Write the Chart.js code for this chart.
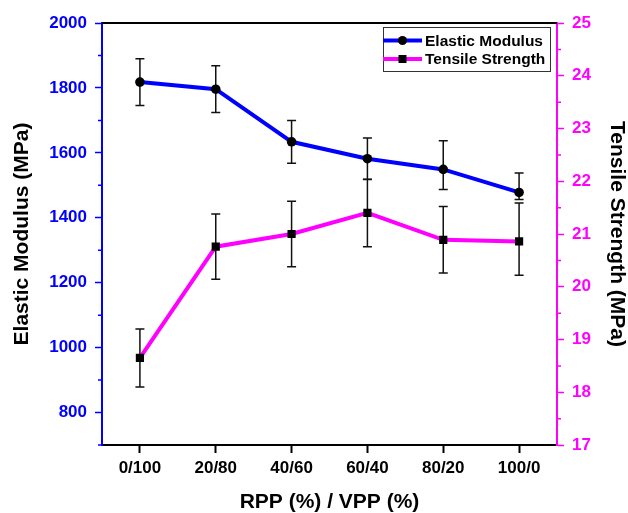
<!DOCTYPE html>
<html>
<head>
<meta charset="utf-8">
<script src="https://cdn.jsdelivr.net/npm/chart.js@4.4.0/dist/chart.umd.min.js"></script>
<style>
  html, body { margin: 0; padding: 0; background: #fff; }
  #wrap { width: 628px; height: 513px; }
</style>
</head>
<body>
<div id="wrap"><canvas id="propsChart" width="628" height="513"></canvas></div>
<script>
const blends = ['0/100', '20/80', '40/60', '60/40', '80/20', '100/0'];

const elasticModulus = [1818, 1796, 1634, 1582, 1549, 1478];
const elasticErrUp   = [72, 72, 66, 64, 88, 60];
const elasticErrDown = [72, 72, 66, 64, 62, 22];

const tensileStrength = [18.65, 20.76, 21.0, 21.4, 20.89, 20.86];
const tensileErrUp    = [0.55, 0.62, 0.62, 0.64, 0.63, 0.73];
const tensileErrDown  = [0.55, 0.62, 0.62, 0.64, 0.63, 0.64];

const modulusTicks = [800, 1000, 1200, 1400, 1600, 1800, 2000];
const strengthTicks = [17, 18, 19, 20, 21, 22, 23, 24, 25];

const BLUE = '#0000ff';
const MAGENTA = '#ff00ff';
const FONT = '"Liberation Sans", Arial, sans-serif';

// vertical error bars with caps, drawn under the lines and markers
const errorBars = {
  id: 'errorBars',
  beforeDatasetsDraw(chart) {
    const ctx = chart.ctx;
    ctx.save();
    ctx.strokeStyle = '#111';
    ctx.lineWidth = 1.5;
    chart.data.datasets.forEach((ds, i) => {
      const meta = chart.getDatasetMeta(i);
      const yScale = chart.scales[ds.yAxisID];
      meta.data.forEach((pt, j) => {
        const v = ds.data[j];
        const yTop = yScale.getPixelForValue(v + ds.errUp[j]);
        const yBot = yScale.getPixelForValue(v - ds.errDown[j]);
        ctx.beginPath();
        ctx.moveTo(pt.x, yTop);
        ctx.lineTo(pt.x, yBot);
        ctx.moveTo(pt.x - 4.5, yTop);
        ctx.lineTo(pt.x + 4.5, yTop);
        ctx.moveTo(pt.x - 4.5, yBot);
        ctx.lineTo(pt.x + 4.5, yBot);
        ctx.stroke();
      });
    });
    ctx.restore();
  }
};

// top frame line and the short minor ticks on both y axes
const frame = {
  id: 'frame',
  afterDraw(chart) {
    const ctx = chart.ctx;
    const a = chart.chartArea;
    ctx.save();
    ctx.strokeStyle = '#000';
    ctx.lineWidth = 2;
    ctx.beginPath();
    ctx.moveTo(a.left, a.top);
    ctx.lineTo(a.right, a.top);
    ctx.stroke();

    const minor = (scale, ticks, x0, x1, color) => {
      const step = ticks[1] - ticks[0];
      ctx.strokeStyle = color;
      ctx.lineWidth = 1.5;
      ctx.beginPath();
      for (let v = ticks[0] - step / 2; v < scale.max; v += step) {
        if (v < scale.min) continue;
        const y = scale.getPixelForValue(v);
        ctx.moveTo(x0, y);
        ctx.lineTo(x1, y);
      }
      ctx.stroke();
    };
    minor(chart.scales.y, modulusTicks, a.left - 4, a.left, BLUE);
    minor(chart.scales.y1, strengthTicks, a.right, a.right + 4, MAGENTA);
    ctx.restore();
  }
};

// boxed legend in the upper right corner of the plot
const boxLegend = {
  id: 'boxLegend',
  afterDraw(chart) {
    const ctx = chart.ctx;
    const x = 383, y = 27, w = 167, h = 44;
    ctx.save();
    ctx.strokeStyle = '#333';
    ctx.lineWidth = 1;
    ctx.strokeRect(x + 0.5, y + 0.5, w, h);
    ctx.font = 'bold 15.5px ' + FONT;
    ctx.textBaseline = 'middle';
    chart.data.datasets.forEach((ds, i) => {
      const cy = y + 13.5 + i * 18.5;
      ctx.strokeStyle = ds.borderColor;
      ctx.lineWidth = 4;
      ctx.beginPath();
      ctx.moveTo(x, cy);
      ctx.lineTo(x + 39, cy);
      ctx.stroke();
      ctx.fillStyle = '#000';
      if (ds.pointStyle === 'rect') {
        ctx.fillRect(x + 15.5, cy - 4, 8, 8);
      } else {
        ctx.beginPath();
        ctx.arc(x + 19.5, cy, 4.5, 0, Math.PI * 2);
        ctx.fill();
      }
      ctx.fillText(ds.label, x + 42, cy + 1);
    });
    ctx.restore();
  }
};

new Chart(document.getElementById('propsChart'), {
  type: 'line',
  data: {
    labels: blends,
    datasets: [
      {
        label: 'Elastic Modulus',
        data: elasticModulus,
        errUp: elasticErrUp,
        errDown: elasticErrDown,
        yAxisID: 'y',
        borderColor: BLUE,
        backgroundColor: '#000',
        borderWidth: 4,
        pointStyle: 'circle',
        pointRadius: 4.8,
        pointBorderWidth: 0,
        pointBackgroundColor: '#000',
        tension: 0
      },
      {
        label: 'Tensile Strength',
        data: tensileStrength,
        errUp: tensileErrUp,
        errDown: tensileErrDown,
        yAxisID: 'y1',
        borderColor: MAGENTA,
        backgroundColor: '#000',
        borderWidth: 4,
        pointStyle: 'rect',
        pointRadius: 5.8,
        pointBorderWidth: 0,
        pointBackgroundColor: '#000',
        tension: 0
      }
    ]
  },
  options: {
    responsive: false,
    animation: false,
    layout: { padding: { top: 23, left: 0, right: 0, bottom: 0 } },
    plugins: {
      legend: { display: false },
      tooltip: { enabled: false }
    },
    scales: {
      x: {
        offset: true,
        afterFit: s => { s.height = 68; },
        grid: { display: true, drawOnChartArea: false, drawTicks: true, tickLength: 8, tickColor: '#000', tickWidth: 2, offset: false },
        border: { color: '#000', width: 2 },
        ticks: { color: '#000', padding: 5, font: { family: FONT, size: 17, weight: 'bold' } },
        title: {
          display: true,
          text: 'RPP (%) / VPP (%)',
          color: '#000',
          padding: 0,
          font: { family: FONT, size: 21, weight: 'bold', lineHeight: 1 }
        }
      },
      y: {
        position: 'left',
        min: 700,
        max: 2000,
        afterFit: s => { s.width = 102; },
        afterBuildTicks: s => { s.ticks = modulusTicks.map(v => ({ value: v })); },
        grid: { drawOnChartArea: false, drawTicks: true, tickLength: 7, tickColor: BLUE, tickWidth: 1.5 },
        border: { color: BLUE, width: 2 },
        ticks: {
          color: BLUE,
          padding: 8,
          font: { family: FONT, size: 17, weight: 'bold' },
          callback: v => String(v)
        },
        title: {
          display: true,
          text: 'Elastic Modulus (MPa)',
          color: '#000',
          padding: { top: 12, bottom: 0 },
          font: { family: FONT, size: 21, weight: 'bold', lineHeight: 1 }
        }
      },
      y1: {
        position: 'right',
        min: 17,
        max: 25,
        afterFit: s => { s.width = 71; },
        afterBuildTicks: s => { s.ticks = strengthTicks.map(v => ({ value: v })); },
        grid: { drawOnChartArea: false, drawTicks: true, tickLength: 7, tickColor: MAGENTA, tickWidth: 1.5 },
        border: { color: MAGENTA, width: 2 },
        ticks: {
          color: MAGENTA,
          padding: 8,
          font: { family: FONT, size: 17, weight: 'bold' },
          callback: v => String(v)
        },
        title: {
          display: true,
          text: 'Tensile Strength (MPa)',
          color: '#000',
          padding: { top: 1, bottom: 0 },
          font: { family: FONT, size: 21, weight: 'bold', lineHeight: 1 }
        }
      }
    }
  },
  plugins: [errorBars, frame, boxLegend]
});
</script>
</body>
</html>
